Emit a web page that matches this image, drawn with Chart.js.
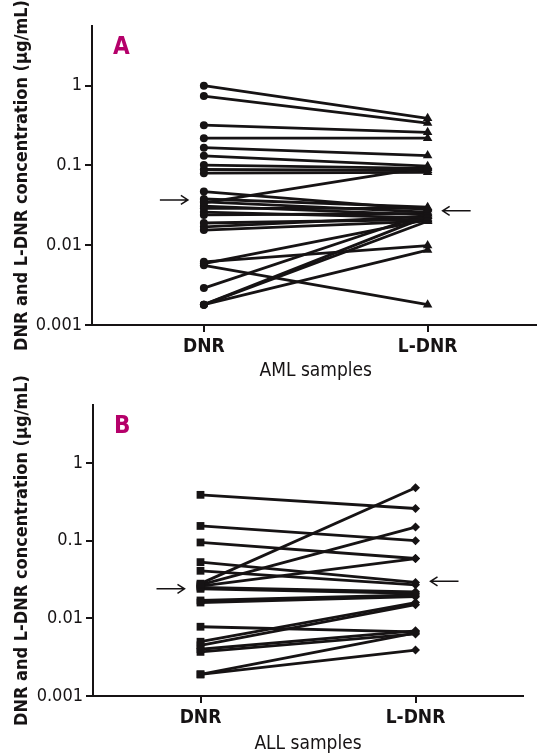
<!DOCTYPE html>
<html>
<head>
<meta charset="utf-8">
<script src="https://cdn.jsdelivr.net/npm/chart.js@4"></script>
<style>
  html, body { margin: 0; padding: 0; background: #fff; }
  body { width: 537px; height: 755px; position: relative; overflow: hidden; }
  .panel { position: absolute; left: 0; width: 537px; }
  #wrapA { top: 0; height: 384px; width: 545px; }
  #wrapB { top: 365px; height: 390px; }
</style>
</head>
<body>
<div class="panel" id="wrapA"><canvas id="chartA"></canvas></div>
<div class="panel" id="wrapB"><canvas id="chartB"></canvas></div>
<script>
// ─── DATA ───
const groups = ['DNR', 'L-DNR'];
const tickVals = [0.001, 0.01, 0.1, 1];

// panel A: AML samples, one line per sample (DNR -> L-DNR)
const amlDnr  = [1.0, 0.74, 0.32, 0.22, 0.167, 0.132, 0.101, 0.089, 0.080, 0.047, 0.034, 0.038, 0.035, 0.031, 0.029, 0.026, 0.024, 0.019, 0.017, 0.0155, 0.0062, 0.0056, 0.0059, 0.0029, 0.0018, 0.0018, 0.0018];
const amlLdnr = [0.39, 0.34, 0.26, 0.22, 0.133, 0.098, 0.092, 0.087, 0.082, 0.028, 0.095, 0.030, 0.026, 0.024, 0.029, 0.022, 0.025, 0.021, 0.023, 0.020, 0.0099, 0.0018, 0.021, 0.025, 0.0087, 0.023, 0.020];
const amlArrows = [0.037, 0.027];

// panel B: ALL samples
const allDnr  = [0.39, 0.155, 0.095, 0.053, 0.041, 0.028, 0.027, 0.026, 0.025, 0.024, 0.017, 0.016, 0.0078, 0.0050, 0.0045, 0.0040, 0.0037, 0.0019, 0.0019];
const allLdnr = [0.26, 0.10, 0.059, 0.029, 0.027, 0.48, 0.15, 0.059, 0.022, 0.021, 0.020, 0.019, 0.0067, 0.016, 0.015, 0.0069, 0.0063, 0.0065, 0.0039];
const allArrows = [0.024, 0.030];

const INK = '#161314';
const MAGENTA = '#b5006a';
const FONT = '"Liberation Sans Narrow", "DejaVu Sans Condensed", "Roboto Condensed", Roboto, sans-serif';

// ─── PLUGIN: panel letter + median arrows ───
function arrow(ctx, x0, x1, y) {
  const dir = Math.sign(x1 - x0);
  ctx.beginPath();
  ctx.moveTo(x0, y);
  ctx.lineTo(x1, y);
  ctx.moveTo(x1 - dir * 7, y - 4.5);
  ctx.lineTo(x1, y);
  ctx.lineTo(x1 - dir * 7, y + 4.5);
  ctx.stroke();
}

const marks = {
  id: 'marks',
  afterDraw(chart, args, opts) {
    const { ctx, chartArea, scales: { x, y } } = chart;
    ctx.save();
    ctx.fillStyle = MAGENTA;
    ctx.font = 'bold 24px ' + FONT;
    ctx.textBaseline = 'alphabetic';
    ctx.fillText(opts.letter, chartArea.left + 21, chartArea.top + 28);

    ctx.strokeStyle = INK;
    ctx.lineWidth = 1.5;
    const x0 = x.getPixelForValue(0), x1 = x.getPixelForValue(1);
    arrow(ctx, x0 - 44, x0 - 16, y.getPixelForValue(opts.arrows[0]));
    arrow(ctx, x1 + 43, x1 + 15, y.getPixelForValue(opts.arrows[1]));
    ctx.restore();
  }
};

function makeChart(id, dnr, ldnr, styles, cfg) {
  const datasets = dnr.map((v, i) => ({
    data: [v, ldnr[i]],
    borderColor: INK,
    backgroundColor: INK,
    borderWidth: 2.8,
    pointStyle: styles,
    pointRadius: cfg.pointRadius,
    pointBackgroundColor: INK,
    pointBorderColor: INK,
    pointBorderWidth: 0,
    clip: false,
    tension: 0
  }));

  return new Chart(document.getElementById(id), {
    type: 'line',
    data: { labels: groups, datasets },
    options: {
      responsive: true,
      maintainAspectRatio: false,
      animation: false,
      events: [],
      layout: { padding: { top: cfg.top, right: cfg.right, left: 0, bottom: 0 } },
      plugins: {
        legend: { display: false },
        tooltip: { enabled: false },
        marks: { letter: cfg.letter, arrows: cfg.arrows }
      },
      scales: {
        x: {
          type: 'category',
          offset: true,
          grid: { display: true, drawOnChartArea: false, drawTicks: true, tickLength: 7, offset: false, color: INK, lineWidth: 2 },
          border: { display: true, color: INK, width: 2 },
          ticks: { color: INK, padding: 4, font: { family: FONT, size: 19, weight: 'bold' } },
          title: { display: true, text: cfg.xTitle, color: INK, padding: { top: 0, bottom: cfg.titlePad }, font: { family: FONT, size: 19, lineHeight: 1 } },
          afterFit: s => { s.height = cfg.xHeight; }
        },
        y: {
          type: 'logarithmic',
          min: 0.001,
          max: 5.6,
          afterBuildTicks: s => { s.ticks = tickVals.map(v => ({ value: v })); },
          grid: { display: true, drawOnChartArea: false, drawTicks: true, tickLength: 7, color: INK, lineWidth: 2 },
          border: { display: true, color: INK, width: 2 },
          ticks: { color: INK, padding: 3, font: { family: FONT, size: 18 }, callback: v => String(v) },
          title: { display: true, text: 'DNR and L-DNR concentration (µg/mL)', color: INK, padding: { top: 13, bottom: 0 }, font: { family: FONT, size: 18, weight: 'bold', lineHeight: 1 } },
          afterFit: s => { s.width = cfg.yWidth; }
        }
      }
    },
    plugins: [marks]
  });
}

// ─── PANEL A: AML ───
makeChart('chartA', amlDnr, amlLdnr, ['circle', 'triangle'], {
  letter: 'A', arrows: amlArrows, xTitle: 'AML samples',
  top: 26, right: 0, yWidth: 92, xHeight: 59, titlePad: 3, pointRadius: [4, 5.5]
});

// ─── PANEL B: ALL ───
makeChart('chartB', allDnr, allLdnr, ['rect', 'rectRot'], {
  letter: 'B', arrows: allArrows, xTitle: 'ALL samples',
  top: 40, right: 14, yWidth: 93, xHeight: 59, titlePad: 1.5, pointRadius: [5.5, 4.5]
});
</script>
</body>
</html>
